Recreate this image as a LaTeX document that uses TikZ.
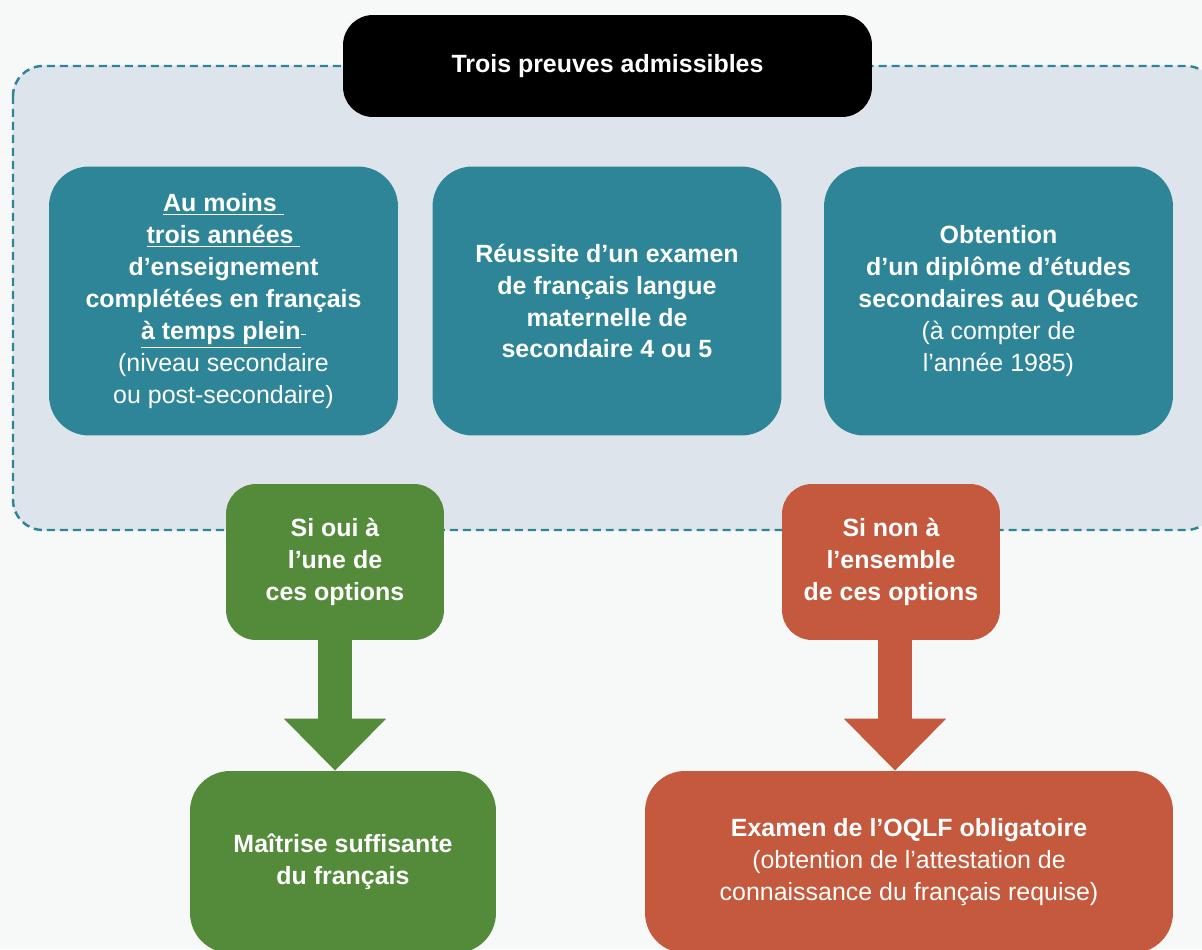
\documentclass[tikz,border=0pt]{standalone}
\usepackage{fontspec}
\setmainfont{Liberation Sans}
\usetikzlibrary{arrows.meta}
\definecolor{pagebg}{RGB}{247,248,248}
\definecolor{panelbg}{RGB}{222,228,235}
\definecolor{teal}{RGB}{46,133,151}
\definecolor{vert}{RGB}{84,139,58}
\definecolor{rouge}{RGB}{196,89,61}
\begin{document}
\begin{tikzpicture}[x=0.02cm,y=-0.02cm,
        box/.style={rounded corners=0.8cm,inner sep=0pt,align=center,text=white,
            font=\fontsize{14.2}{18.2}\selectfont,minimum width=6.98cm,minimum height=5.38cm},
        choice/.style={rounded corners=0.6cm,inner sep=0pt,align=center,text=white,
            font=\fontsize{14.2}{18.2}\selectfont\bfseries,minimum width=4.36cm,minimum height=3.12cm},
        result/.style={rounded corners=0.8cm,inner sep=0pt,align=center,text=white,
            font=\fontsize{14.2}{18.2}\selectfont,minimum height=3.64cm},
        stem/.style={line width=0.68cm,-{Triangle[width=1.98cm,length=1.04cm]}}]
    \useasboundingbox [fill=pagebg] (0,0) rectangle (1202,949);
    % grey panel with the three options
    \draw [panelbg,fill=panelbg,rounded corners=0.6cm] (13,66) rectangle (1216,530);
    \draw [teal,line width=1.4pt,dash pattern=on 0.16cm off 0.1cm,rounded corners=0.6cm]
        (13,66) rectangle (1216,530);
    \node (title) [fill=black,rounded corners=0.6cm,minimum width=10.58cm,minimum height=2.04cm,
        text=white,font=\fontsize{14.2}{18.2}\selectfont\bfseries] at (607.5,66) {Trois preuves admissibles};
    \begin{scope}[every node/.style={box,fill=teal}]
        \node (annees) at (223.5,301) {\textbf{\underline{Au moins\ }}\\
            \textbf{\underline{trois années\ }}\\
            \textbf{d’enseignement}\\
            \textbf{complétées en français}\\
            \textbf{\underline{à temps plein}}\raisebox{0.35ex}{\rule{3pt}{0.4pt}}\\
            (niveau secondaire\\ ou post-secondaire)};
        \node (examen) at (607,301) {\textbf{Réussite d’un examen}\\
            \textbf{de français langue}\\
            \textbf{maternelle de}\\
            \textbf{secondaire 4 ou 5}};
        \node (diplome) at (998.5,301) {\textbf{Obtention}\\
            \textbf{d’un diplôme d’études}\\
            \textbf{secondaires au Québec}\\
            (à compter de\\ l’année 1985)};
    \end{scope}
    % the two outcomes
    \node (oui) [choice,fill=vert] at (335,562) {Si oui à\\ l’une de\\ ces options};
    \node (non) [choice,fill=rouge] at (891,562) {Si non à\\ l’ensemble\\ de ces options};
    \node (maitrise) [result,fill=vert,minimum width=6.12cm] at (343,862)
        {\textbf{Maîtrise suffisante}\\ \textbf{du français}};
    \node (oqlf) [result,fill=rouge,minimum width=10.56cm] at (909,862)
        {\textbf{Examen de l’OQLF obligatoire}\\ (obtention de l’attestation de\\
         connaissance du français requise)};
    \draw [stem,vert] (oui.south) -- (oui.south |- maitrise.north);
    \draw [stem,rouge] ([xshift=0.08cm]non.south) -- ([xshift=0.08cm]non.south |- oqlf.north);
\end{tikzpicture}
\end{document}
